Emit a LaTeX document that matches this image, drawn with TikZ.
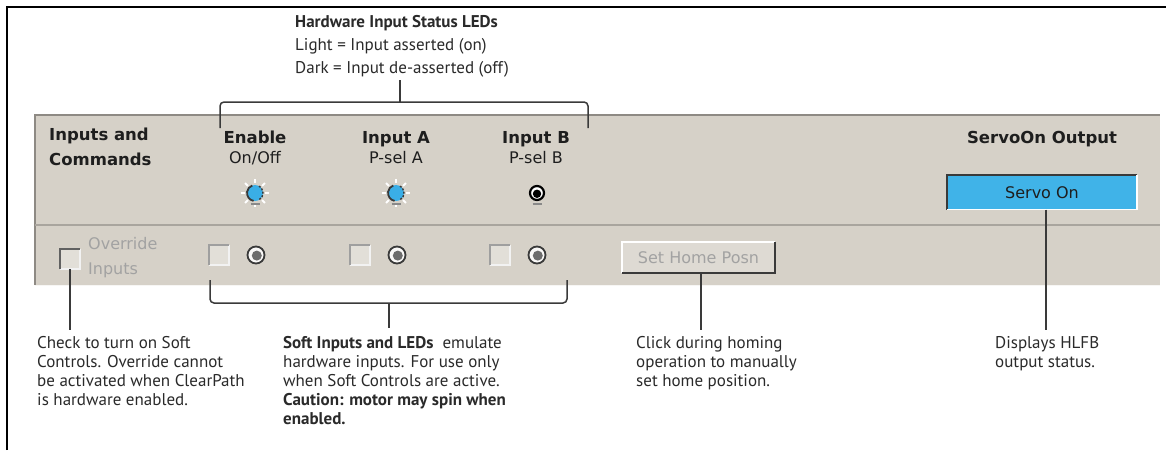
\documentclass[tikz,border=0pt]{standalone}
\usepackage{fontspec}
\setmainfont{PT Sans}
\newfontfamily\uifont{DejaVu Sans}
\definecolor{panel}{HTML}{D6D1C8}
\definecolor{paneledge}{HTML}{8E8A84}
\definecolor{divline}{HTML}{A9A59E}
\definecolor{ledblue}{HTML}{3AAEE6}
\definecolor{servoblue}{HTML}{40B3E8}
\definecolor{captxt}{HTML}{2A2A2A}
\definecolor{linec}{HTML}{3A3A3A}
\definecolor{grayout}{HTML}{A2A2A2}
\definecolor{uitext}{HTML}{1E1E1E}
\begin{document}
\begin{tikzpicture}[x=1pt,y=-1pt,
  captext/.style={font={\fontsize{17}{19}\selectfont}, text=captxt, align=left, inner sep=0pt, anchor=north west},
  hwtitle/.style={font={\fontsize{17}{19}\selectfont\bfseries}, text=captxt, inner sep=0pt, anchor=base west},
  hwline/.style={font={\fontsize{17}{19}\selectfont}, text=captxt, inner sep=0pt, anchor=base west},
  uibold/.style={font={\uifont\bfseries\fontsize{16.5}{25}\selectfont}, text=uitext, inner sep=0pt},
  uireg/.style={font={\uifont\fontsize{16}{19}\selectfont}, text=uitext, inner sep=0pt},
  uigray/.style={font={\uifont\fontsize{16}{24}\selectfont}, text=grayout, inner sep=0pt},
  conn/.style={draw=linec, line width=1.5pt},
  pics/ledon/.style={code={
    \foreach \a in {0,45,...,315}{\draw[white, line width=1.8pt] (\a:10) -- (\a:14);}
    \fill[ledblue] (0,0) circle (8);
    \draw[linec, line width=1.8pt] (100:8) arc (100:250:8);
    \draw[linec, line width=1.4pt, dash pattern=on 2pt off 1.5pt] (-60:8) arc (-60:60:8);
    \draw[linec!60, line width=1.3pt] (-4.5,11) -- (4.5,11);
  }},
  pics/ledoff/.style={code={
    \draw[black, line width=2.2pt, fill=white] (0,0) circle (7);
    \fill[black] (0,0.8) circle (4.2);
    \draw[linec!60, line width=1.3pt] (-4.5,11) -- (4.5,11);
  }},
  pics/ledsoft/.style={code={
    \draw[linec, line width=1.8pt, fill=white!85!panel] (0,0) circle (8.5);
    \fill[gray!85!black] (0.8,0.6) circle (5);
  }},
  pics/chkbox/.style={code={
    \fill[panel!70!white] (0,0) rectangle (20,20);
    \draw[white!95!black, line width=1.5pt] (0,20) -- (20,20) -- (20,0);
    \draw[#1, line width=2.4pt] (0,20) -- (0,0) -- (20,0);
  }}
]
\useasboundingbox (0,0) rectangle (1166,450);
\fill[white] (0,0) rectangle (1166,450);
% frame
\draw[black, line width=2.2pt] (7,450) -- (7,7) -- (1166,7);

% panel
\fill[panel] (35,115) rectangle (1160,285);
\draw[paneledge, line width=1.6pt] (35,285) -- (35,115) -- (1160,115);
\draw[divline, line width=1.6pt] (35,225) -- (1160,225);
\draw[white!80!panel, line width=1pt] (35,285.5) -- (1160,285.5);

% top annotation
\node[hwtitle] (hw1) at (295,27) {Hardware Input Status LEDs};
\node[hwline] (hw2) at (295,50) {Light = Input asserted (on)};
\node[hwline] (hw3) at (295,73) {Dark = Input de-asserted (off)};
\coordinate (topstem) at (400,80);
\coordinate (tbl) at (220,128);
\coordinate (tbr) at (588,128);
\draw[conn] (topstem) -- (topstem |- 0,102);
\draw[conn, rounded corners=4pt] (tbl) -- (tbl |- 0,102) -- (tbr |- 0,102) -- (tbr);

% header texts
\node[uibold, anchor=base west] (ic1) at (49,140) {Inputs and};
\node[uibold, anchor=base west] (ic2) at (49,165) {Commands};
\node[uibold, anchor=base] (en1) at (255,143) {Enable};
\node[uireg, anchor=base] (en2) at (255,163) {On/Off};
\node[uibold, anchor=base] (ia1) at (396,143) {Input A};
\node[uireg, anchor=base] (ia2) at (396,163) {P-sel A};
\node[uibold, anchor=base] (ib1) at (536,143) {Input B};
\node[uireg, anchor=base] (ib2) at (536,163) {P-sel B};
\node[uibold, anchor=base] (so1) at (1042,143) {ServoOn Output};

% LEDs top row
\pic at (255,193) {ledon};
\pic at (396,193) {ledon};
\pic at (537,193) {ledoff};

% servo on box
\node[draw=none, fill=servoblue, minimum width=190pt, minimum height=34pt, inner sep=0pt,
      font={\uifont\fontsize{16}{19}\selectfont}, text=uitext] (servo) at (1042,192.5) {Servo On};
\draw[linec, line width=2.2pt] (servo.south west) -- (servo.north west) -- (servo.north east);
\draw[white, line width=1.5pt] (servo.south west) -- (servo.south east) -- (servo.north east);

% bottom row
\pic at (60,249) {chkbox=linec!80};
\coordinate (ovr) at (70,269);
\node[uigray, anchor=base west] (ovt1) at (88,249) {Override};
\node[uigray, anchor=base west] (ovt2) at (88,274) {Inputs};
\pic at (209,245) {chkbox=gray!75};
\pic at (256,255) {ledsoft};
\pic at (350,245) {chkbox=gray!75};
\pic at (397,255) {ledsoft};
\pic at (490,245) {chkbox=gray!75};
\pic at (537,255) {ledsoft};

% set home posn button
\node[fill=panel!80!white, minimum width=153pt, minimum height=31pt, inner sep=0pt,
      font={\uifont\fontsize{16}{19}\selectfont}, text=grayout] (home) at (698.5,257.5) {Set Home Posn};
\draw[white, line width=1.5pt] (home.south west) -- (home.north west) -- (home.north east);
\draw[linec, line width=2pt] (home.south west) -- (home.south east) -- (home.north east);

% bottom bracket
\coordinate (bbl) at (210,280);
\coordinate (bbr) at (567,280);
\draw[conn, rounded corners=4pt] (bbl) -- (bbl |- 0,303) -- (bbr |- 0,303) -- (bbr);

% captions
\node[captext] (capL) at (37,336) {Check to turn on Soft\\Controls. Override cannot\\be activated when ClearPath\\is hardware enabled.};
\node[captext] (capM) at (283,336) {\textbf{Soft Inputs and LEDs}\ \ emulate\\hardware inputs. For use only\\when Soft Controls are active.\\\textbf{Caution: motor may spin when}\\\textbf{enabled.}};
\node[captext] (capH) at (636,336) {Click during homing\\operation to manually\\set home position.};
\node[captext] (capS) at (995,336) {Displays HLFB\\output status.};

% connectors
\draw[conn] (ovr) -- (ovr |- 0,330);
\draw[conn] (389,303) -- (389,328);
\draw[conn] (home.south -| 701,0) -- (701,330);
\draw[conn] (servo.south -| 1046,0) -- (1046,330);
\end{tikzpicture}
\end{document}
